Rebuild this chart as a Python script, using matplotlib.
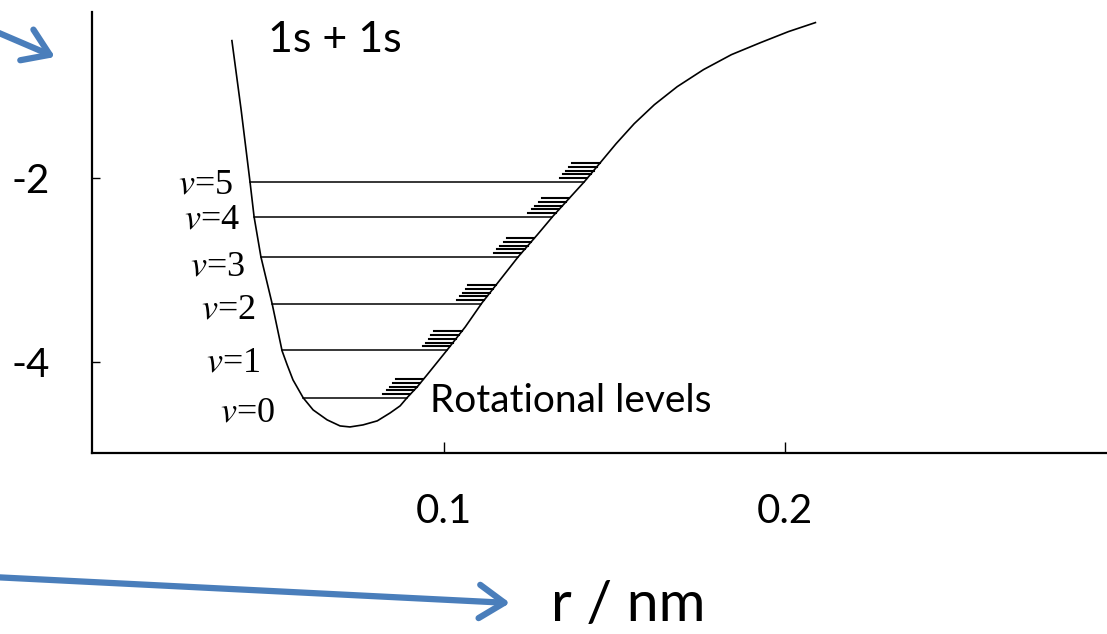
import numpy as np
import matplotlib
matplotlib.use("Agg")
import matplotlib.pyplot as plt

# potential energy curve (r in nm, energy in axis units)
r_left = [0.0378, 0.0405, 0.0431, 0.0443, 0.0463, 0.0496, 0.0525, 0.0540,
          0.0557, 0.0587, 0.0616, 0.0657, 0.0695, 0.0724]
e_left = [-0.511, -1.261, -2.043, -2.424, -2.859, -3.370, -3.880, -4.033,
          -4.196, -4.391, -4.522, -4.630, -4.696, -4.707]
r_right = [0.0724, 0.0762, 0.0804, 0.0842, 0.0871, 0.0891, 0.0921, 0.0950,
           0.1009, 0.1062, 0.1111, 0.1164, 0.1217, 0.1273, 0.1320, 0.1411,
           0.1455, 0.1504, 0.1557, 0.1616, 0.1683, 0.1760, 0.1842, 0.1927,
           0.2009, 0.2088]
e_right = [-4.707, -4.685, -4.641, -4.554, -4.478, -4.391, -4.272, -4.141,
           -3.870, -3.620, -3.359, -3.109, -2.859, -2.620, -2.413, -2.043,
           -1.848, -1.630, -1.413, -1.207, -1.011, -0.826, -0.663, -0.533,
           -0.413, -0.315]

# vibrational levels
v_labels = ["0", "1", "2", "3", "4", "5"]
v_energy = [-4.391, -3.870, -3.370, -2.859, -2.424, -2.043]
rot_offsets = [0.04, 0.08, 0.12, 0.16, 0.20]

x_ticks = [0.1, 0.2]
x_ticklabels = ["0.1", "0.2"]
y_ticks = [-4, -2]
y_ticklabels = ["-4", "-2"]

# label placement (data coords)
v_label_x = [0.0504, 0.0460, 0.0446, 0.0416, 0.0402, 0.0381]
v_label_y = [-4.554, -4.011, -3.435, -2.967, -2.457, -2.076]

plt.rcParams["axes.unicode_minus"] = False
plt.rcParams["mathtext.fontset"] = "stix"

W, H = 1107, 634
fig = plt.figure(figsize=(W / 100, H / 100), dpi=100)
ax = fig.add_axes([92 / W, (H - 453) / H, (W - 92) / W + 0.01, (453 - 12) / H])

r_curve = np.array(r_left + r_right[1:])
e_curve = np.array(e_left + e_right[1:])
ax.plot(r_curve, e_curve, color="black", lw=1.2, solid_joinstyle="round")

rl = np.array(r_left)[::-1]
el = np.array(e_left)[::-1]
for lab, e, lx, ly in zip(v_labels, v_energy, v_label_x, v_label_y):
    x0 = np.interp(e, el, rl)
    x1 = np.interp(e, e_right, r_right)
    ax.plot([x0, x1], [e, e], color="black", lw=1.1)
    for off in rot_offsets:
        xr = np.interp(e + off, e_right, r_right)
        ax.plot([xr - 0.008, xr], [e + off, e + off], color="black", lw=1.5)
    ax.text(lx, ly, r"$v$=" + lab, ha="right", va="center",
            family="Liberation Serif", fontsize=26)

ax.text(0.0484, -0.5, "1s + 1s", ha="left", va="center",
        family="Lato", fontsize=31)
ax.text(0.0959, -4.424, "Rotational levels", ha="left", va="center",
        family="Lato", fontsize=28)

ax.set_xlim(-0.0032, 0.2975)
ax.set_ylim(-4.99, -0.2)
ax.spines["top"].set_visible(False)
ax.spines["right"].set_visible(False)
ax.spines["left"].set_linewidth(1.6)
ax.spines["bottom"].set_linewidth(1.6)

ax.set_xticks(x_ticks)
ax.set_xticklabels(x_ticklabels, family="Lato", fontsize=29)
ax.set_yticks(y_ticks)
ax.set_yticklabels(y_ticklabels, family="Lato", fontsize=29)
ax.tick_params(axis="x", direction="in", length=8, width=1, pad=29)
ax.tick_params(axis="y", direction="in", length=6, width=1, pad=30)

fig.text(628 / W, (H - 605) / H, "r / nm", ha="center", va="center",
         family="Lato", fontsize=41)

# blue pointer arrows outside the axes
blue = "#4a7ebb"
arrow = dict(arrowstyle="->,head_length=0.6,head_width=0.4", lw=4.5,
             color=blue, mutation_scale=30, shrinkA=0, shrinkB=0)
ax.annotate("", xy=(55, H - 57), xytext=(-8, H - 30),
            xycoords="figure pixels", textcoords="figure pixels",
            arrowprops=arrow, annotation_clip=False)
ax.annotate("", xy=(510, H - 603), xytext=(-8, H - 577),
            xycoords="figure pixels", textcoords="figure pixels",
            arrowprops=arrow, annotation_clip=False)

fig.savefig("out.png", dpi=100)
